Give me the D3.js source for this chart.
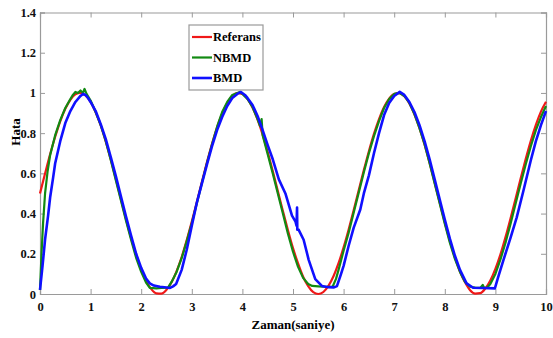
<!DOCTYPE html>
<html>
<head>
<meta charset="utf-8">
<script src="https://cdn.jsdelivr.net/npm/d3@7"></script>
<style>
	body { margin: 0; background: #fff; }
</style>
</head>
<body>
<div id="chart"></div>
<script>
// tick labels
const xTicks = [0, 1, 2, 3, 4, 5, 6, 7, 8, 9, 10];
const yTicks = [0, 0.2, 0.4, 0.6, 0.8, 1, 1.2, 1.4];

const seriesNames = ["Referans", "NBMD", "BMD"];

// [zaman, hata]
const referans = [
	[0,0.500],[0.1,0.599],[0.2,0.695],[0.3,0.782],[0.4,0.859],[0.5,0.921],[0.6,0.966],[0.7,0.993],[0.8,1.000],[0.9,0.987],
	[1.0,0.955],[1.1,0.904],[1.2,0.838],[1.3,0.758],[1.4,0.668],[1.5,0.571],[1.6,0.471],[1.7,0.372],[1.8,0.279],[1.9,0.194],
	[2.0,0.122],[2.1,0.064],[2.2,0.024],[2.3,0.003],[2.4,0.002],[2.5,0.021],[2.6,0.058],[2.7,0.114],[2.8,0.184],[2.9,0.268],
	[3.0,0.360],[3.1,0.458],[3.2,0.558],[3.3,0.656],[3.4,0.747],[3.5,0.829],[3.6,0.897],[3.7,0.949],[3.8,0.984],[3.9,0.999],
	[4.0,0.995],[4.1,0.970],[4.2,0.927],[4.3,0.867],[4.4,0.792],[4.5,0.706],[4.6,0.611],[4.7,0.512],[4.8,0.413],[4.9,0.317],
	[5.0,0.228],[5.1,0.152],[5.2,0.086],[5.3,0.039],[5.4,0.009],[5.5,0.000],[5.6,0.010],[5.7,0.040],[5.8,0.088],[5.9,0.153],
	[6.0,0.232],[6.1,0.321],[6.2,0.417],[6.3,0.517],[6.4,0.616],[6.5,0.710],[6.6,0.796],[6.7,0.870],[6.8,0.930],[6.9,0.972],
	[7.0,0.995],[7.1,0.999],[7.2,0.983],[7.3,0.948],[7.4,0.894],[7.5,0.825],[7.6,0.744],[7.7,0.652],[7.8,0.554],[7.9,0.454],
	[8.0,0.356],[8.1,0.264],[8.2,0.182],[8.3,0.112],[8.4,0.058],[8.5,0.019],[8.6,0.002],[8.7,0.004],[8.8,0.027],[8.9,0.067],
	[9.0,0.125],[9.1,0.197],[9.2,0.283],[9.3,0.377],[9.4,0.475],[9.5,0.575],[9.6,0.672],[9.7,0.762],[9.8,0.841],[9.9,0.907],
	[10.0,0.956]
];

const nbmd = [
	[0,0.02],[0.03,0.2],[0.06,0.35],[0.1,0.5],[0.15,0.61],[0.2,0.69],[0.3,0.79],[0.4,0.865],[0.5,0.925],[0.6,0.97],
	[0.65,0.99],[0.7,1.005],[0.75,1.0],[0.8,1.012],[0.85,1.0],[0.88,1.02],[0.92,0.995],[1.0,0.962],[1.1,0.905],[1.2,0.84],
	[1.3,0.76],[1.4,0.665],[1.5,0.565],[1.6,0.465],[1.7,0.365],[1.8,0.27],[1.9,0.18],[2.0,0.11],[2.1,0.055],[2.17,0.03],
	[2.3,0.028],[2.4,0.03],[2.53,0.032],[2.6,0.06],[2.7,0.11],[2.8,0.178],[2.9,0.262],[3.0,0.352],[3.1,0.452],[3.2,0.552],
	[3.3,0.652],[3.4,0.745],[3.5,0.832],[3.6,0.905],[3.7,0.955],[3.8,0.99],[3.9,1.0],[3.95,1.005],[4.0,0.995],[4.1,0.97],
	[4.2,0.93],[4.3,0.87],[4.35,0.835],[4.38,0.87],[4.4,0.79],[4.5,0.695],[4.6,0.6],[4.7,0.5],[4.8,0.4],[4.9,0.3],
	[5.0,0.21],[5.1,0.135],[5.2,0.08],[5.3,0.05],[5.38,0.04],[5.5,0.038],[5.6,0.036],[5.78,0.035],[5.85,0.075],[5.9,0.12],
	[6.0,0.215],[6.1,0.305],[6.2,0.405],[6.3,0.505],[6.4,0.605],[6.5,0.7],[6.6,0.785],[6.7,0.86],[6.8,0.925],[6.9,0.97],
	[7.0,0.995],[7.1,1.0],[7.2,0.985],[7.3,0.95],[7.4,0.895],[7.5,0.825],[7.6,0.745],[7.7,0.65],[7.8,0.55],[7.9,0.45],
	[8.0,0.35],[8.1,0.255],[8.2,0.175],[8.3,0.11],[8.4,0.06],[8.5,0.036],[8.6,0.032],[8.7,0.03],[8.75,0.045],[8.78,0.03],
	[8.83,0.03],[8.9,0.05],[9.0,0.1],[9.1,0.172],[9.2,0.255],[9.3,0.35],[9.4,0.45],[9.5,0.55],[9.6,0.645],[9.7,0.735],
	[9.8,0.815],[9.9,0.88],[10.0,0.935]
];

const bmd = [
	[0,0.02],[0.05,0.14],[0.1,0.27],[0.16,0.39],[0.2,0.48],[0.26,0.58],[0.3,0.65],[0.4,0.76],[0.5,0.85],[0.6,0.91],
	[0.7,0.955],[0.8,0.985],[0.85,0.995],[0.9,0.99],[0.95,0.975],[1.0,0.955],[1.1,0.91],[1.2,0.845],[1.3,0.77],[1.4,0.68],
	[1.5,0.585],[1.6,0.485],[1.7,0.385],[1.8,0.29],[1.9,0.2],[2.0,0.13],[2.1,0.075],[2.17,0.053],[2.25,0.042],[2.37,0.036],
	[2.5,0.032],[2.57,0.03],[2.63,0.038],[2.69,0.05],[2.8,0.12],[2.9,0.22],[3.0,0.34],[3.1,0.455],[3.2,0.55],[3.3,0.645],
	[3.4,0.735],[3.5,0.815],[3.6,0.88],[3.7,0.935],[3.8,0.975],[3.9,0.995],[3.97,1.005],[4.05,0.99],[4.1,0.975],[4.2,0.94],
	[4.3,0.885],[4.4,0.815],[4.5,0.74],[4.6,0.67],[4.72,0.57],[4.85,0.5],[4.98,0.39],[5.05,0.36],[5.07,0.34],[5.08,0.43],
	[5.085,0.32],[5.11,0.32],[5.21,0.27],[5.31,0.17],[5.44,0.074],[5.57,0.04],[5.7,0.034],[5.81,0.033],[5.87,0.04],[5.95,0.1],
	[6.0,0.14],[6.1,0.24],[6.2,0.33],[6.33,0.42],[6.4,0.5],[6.5,0.59],[6.6,0.7],[6.7,0.8],[6.8,0.89],[6.9,0.95],
	[7.0,0.985],[7.11,1.005],[7.2,0.99],[7.3,0.955],[7.4,0.905],[7.5,0.84],[7.6,0.76],[7.7,0.67],[7.8,0.57],[7.9,0.47],
	[8.0,0.37],[8.1,0.275],[8.2,0.19],[8.3,0.12],[8.43,0.053],[8.56,0.031],[8.75,0.03],[8.99,0.028],[9.05,0.08],[9.16,0.17],
	[9.3,0.28],[9.42,0.38],[9.55,0.51],[9.7,0.665],[9.8,0.76],[9.9,0.84],[10.0,0.91]
];

{
	const opts = {
		width: 553,
		height: 338,
		margin: { top: 12.5, right: 7, bottom: 44, left: 40 },
		colors: ["#f01818", "#128a12", "#1010ff"],
		strokes: [2.2, 2.2, 2.6],
		font: "'Liberation Serif', 'Times New Roman', 'DejaVu Serif', serif"
	};
	const { width, height, margin } = opts;

	const svg = d3.select("#chart").append("svg")
		.attr("width", width)
		.attr("height", height);

	const x = d3.scaleLinear()
		.domain([0, 10])
		.range([margin.left, width - margin.right]);

	const y = d3.scaleLinear()
		.domain([0, 1.4])
		.range([height - margin.bottom, margin.top]);

	const fmt = d => String(+d.toFixed(1));
	const frameColor = "#9a9a9a";

	// axes, all ticks pointing inside
	const gx = svg.append("g")
		.attr("transform", `translate(0,${y(0)})`)
		.call(d3.axisBottom(x).tickValues(xTicks).tickFormat(fmt).tickSize(-5).tickPadding(8));
	const gy = svg.append("g")
		.attr("transform", `translate(${x(0)},0)`)
		.call(d3.axisLeft(y).tickValues(yTicks).tickFormat(fmt).tickSize(-5).tickPadding(4));
	const gt = svg.append("g")
		.attr("transform", `translate(0,${y(1.4)})`)
		.call(d3.axisTop(x).tickValues(xTicks).tickFormat("").tickSize(-5));
	const gr = svg.append("g")
		.attr("transform", `translate(${x(10)},0)`)
		.call(d3.axisRight(y).tickValues(yTicks).tickFormat("").tickSize(-5));

	[gx, gy, gt, gr].forEach(g => {
		g.attr("font-family", null);
		g.select(".domain").attr("stroke", frameColor).attr("stroke-width", 1.2);
		g.selectAll(".tick line").attr("stroke", frameColor);
		g.selectAll(".tick text")
			.attr("fill", "#111");
	});

	// series
	const line = d3.line()
		.x(d => x(d[0]))
		.y(d => y(d[1]));

	const allSeries = [referans, nbmd, bmd];
	svg.append("g").selectAll("path")
		.data(allSeries)
		.enter().append("path")
			.attr("fill", "none")
			.attr("stroke", (d, i) => opts.colors[i])
			.attr("stroke-width", (d, i) => opts.strokes[i])
			.attr("stroke-linejoin", "round")
			.attr("d", (d, i) => i === 0 ? line.curve(d3.curveMonotoneX)(d) : line.curve(d3.curveLinear)(d));

	// axis titles
	svg.append("text")
		.attr("x", (x(0) + x(10)) / 2)
		.attr("y", 329)
		.attr("text-anchor", "middle")
		.style("font-size", "13px")
		.text("Zaman(saniye)");

	svg.append("text")
		.attr("transform", "translate(20,132) rotate(-90)")
		.attr("text-anchor", "middle")
		.style("font-size", "13px")
		.text("Hata");

	// legend
	const legend = svg.append("g").attr("transform", "translate(189,25)");
	legend.append("rect")
		.attr("width", 74)
		.attr("height", 65)
		.attr("fill", "#fff")
		.attr("stroke", frameColor)
		.attr("stroke-width", 1.2);

	const items = legend.selectAll("g.item")
		.data(seriesNames)
		.enter().append("g")
			.classed("item", true)
			.attr("transform", (d, i) => `translate(0,${12 + i * 20.5})`);
	items.append("line")
		.attr("x1", 3).attr("x2", 23)
		.attr("stroke", (d, i) => opts.colors[i])
		.attr("stroke-width", (d, i) => opts.strokes[i]);
	items.append("text")
		.attr("x", 24)
		.attr("dy", "0.35em")
		.style("font-size", "12.5px")
		.text(d => d);

	// same serif bold face everywhere
	svg.selectAll("text")
		.style("font-family", opts.font)
		.style("font-weight", "bold")
		.filter(function () { return !this.style.fontSize; })
		.style("font-size", "12.5px");
}
</script>
</body>
</html>
